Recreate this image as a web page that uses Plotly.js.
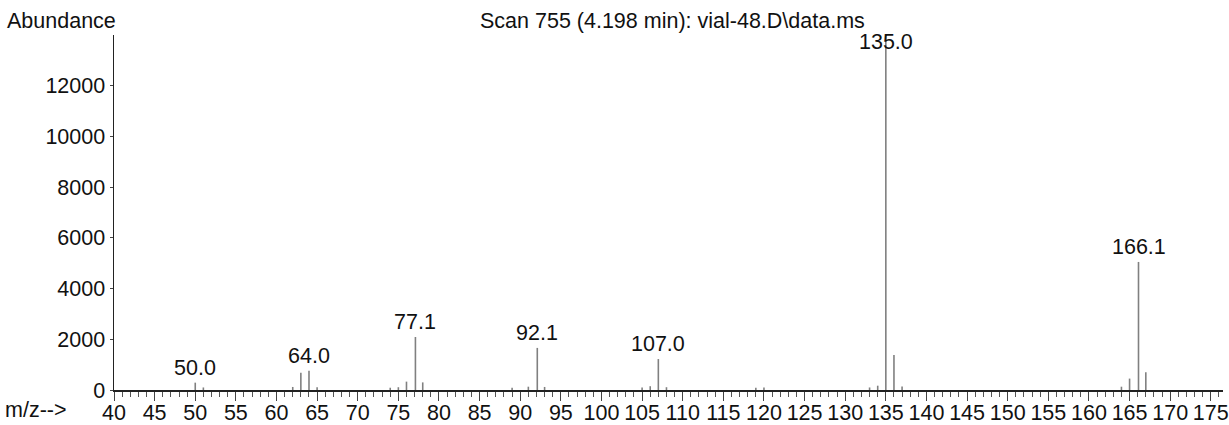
<!DOCTYPE html>
<html>
<head>
<meta charset="utf-8">
<script src="https://cdn.plot.ly/plotly-3.0.1.min.js"></script>
<style>
html,body{margin:0;padding:0;background:#fff;}
#chart{width:1229px;height:425px;}
</style>
</head>
<body>
<div id="chart"></div>
<script>
// m/z values and abundances
const mz = [50.0, 51, 62, 63, 64.0, 65, 74, 75, 76, 77.1, 78, 89, 91, 92.1, 93, 105, 106, 107.0, 108, 119, 120, 133, 134, 135.0, 136, 137, 164, 165, 166.1, 167];
const abundance = [290, 100, 120, 680, 760, 110, 90, 110, 330, 2090, 300, 90, 130, 1660, 120, 100, 150, 1220, 110, 90, 100, 100, 170, 14100, 1380, 140, 130, 450, 5050, 700];
// labelled peaks
const labelMz = [50.0, 64.0, 77.1, 92.1, 107.0, 135.0, 166.1];
const labelText = ["50.0", "64.0", "77.1", "92.1", "107.0", "135.0", "166.1"];
const labelAbund = [290, 760, 2090, 1660, 1220, 14100, 5050];

const yTicks = [0, 2000, 4000, 6000, 8000, 10000, 12000];
const xRange = [40, 176.5];
const yRange = [0, 14000];

const xs = [], ys = [];
mz.forEach((m, i) => { xs.push(m, m, null); ys.push(0, abundance[i], null); });

const font = {family: 'Arial, "Liberation Sans", sans-serif', size: 21.5, color: '#111'};

const traces = [{
  type: 'scatter', mode: 'lines', x: xs, y: ys,
  line: {color: '#808080', width: 1.6},
  hoverinfo: 'skip', showlegend: false
}];

const W = 1229, H = 425, L = 114, R = 6, T = 35, B = 35;
const pw = W - L - R, ph = H - T - B;
function px(x){ return (x - L) / pw; }
function py(y){ return (H - B - y) / ph; }

const annotations = labelMz.map((m, i) => ({
  x: m, y: Math.min(labelAbund[i], 13150), xref: 'x', yref: 'y',
  text: labelText[i], showarrow: false, yanchor: 'bottom', xanchor: 'center',
  yshift: 1, font: font
}));
annotations.push({x: px(5), y: py(21), xref: 'paper', yref: 'paper', text: 'Abundance', showarrow: false, font: font, xanchor: 'left', yanchor: 'middle'});
annotations.push({x: px(672), y: py(21), xref: 'paper', yref: 'paper', text: 'Scan 755 (4.198 min): vial-48.D\\data.ms', showarrow: false, font: font, xanchor: 'center', yanchor: 'middle'});
annotations.push({x: px(3), y: py(410), xref: 'paper', yref: 'paper', text: 'm/z-->', showarrow: false, font: font, xanchor: 'left', yanchor: 'middle'});

const layout = {
  width: W, height: H,
  margin: {l: L, r: R, t: T, b: B, pad: 0},
  paper_bgcolor: '#fff', plot_bgcolor: '#fff',
  font: font,
  showlegend: false,
  xaxis: {
    range: xRange, dtick: 5, tick0: 40, ticks: 'outside', ticklen: 9, tickwidth: 1, tickcolor: '#444',
    showline: true, linecolor: '#222', linewidth: 1.5, showgrid: false, zeroline: false,
    tickfont: font, ticklabelstandoff: -6, ticklabeloverflow: 'allow',
    minor: {dtick: 1, tick0: 40, ticks: 'outside', ticklen: 5, tickwidth: 1, tickcolor: '#555', showgrid: false}
  },
  yaxis: {
    range: yRange, tickvals: yTicks, ticktext: yTicks.map(String), ticks: 'outside', ticklen: 3, tickcolor: '#444',
    showline: true, linecolor: '#222', linewidth: 1.5, showgrid: false, zeroline: false,
    tickfont: font, ticklabelstandoff: 0
  },
  annotations: annotations
};

Plotly.newPlot('chart', traces, layout, {staticPlot: true, displayModeBar: false});
</script>
</body>
</html>
